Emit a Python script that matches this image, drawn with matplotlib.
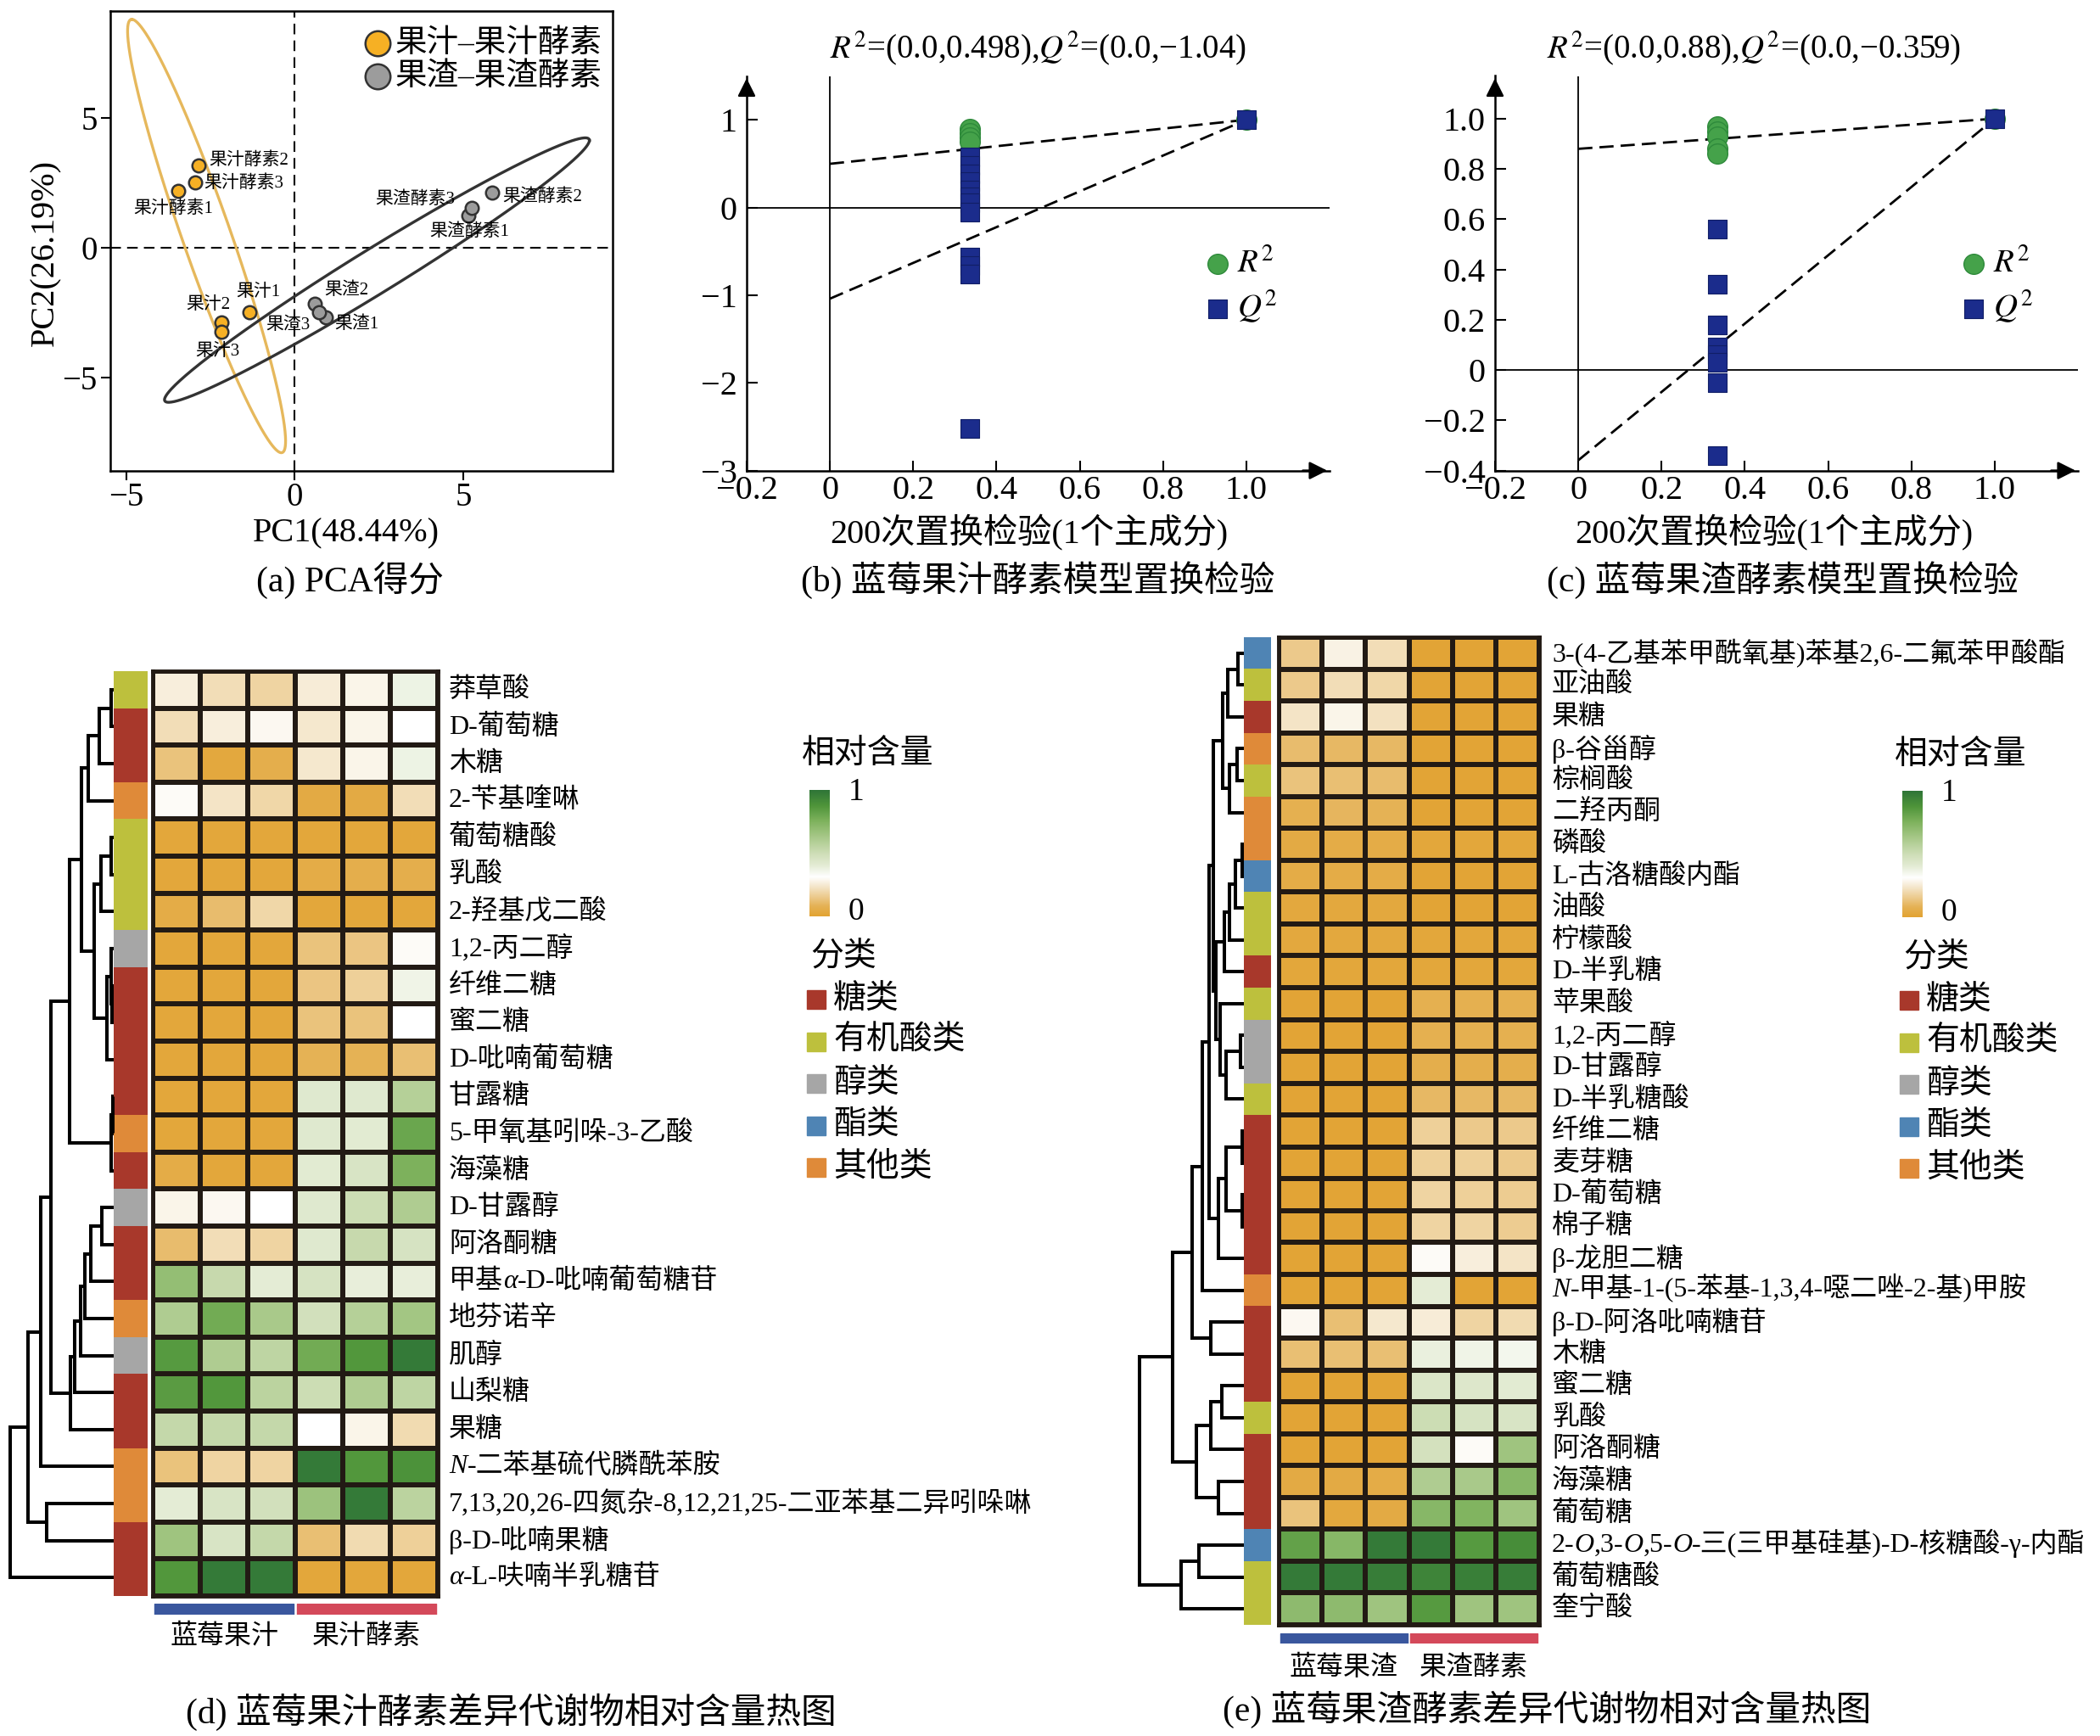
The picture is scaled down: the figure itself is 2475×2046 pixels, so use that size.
import re
import numpy as np
import matplotlib
matplotlib.use('Agg')
import matplotlib.pyplot as plt
from matplotlib.colors import LinearSegmentedColormap, to_rgb
from matplotlib.patches import Rectangle

plt.rcParams['font.family'] = ['Liberation Serif', 'Noto Sans CJK SC']
plt.rcParams['mathtext.fontset'] = 'stix'

# ---------------- data ----------------
# (a) PCA scores
pca_names = ['果汁1', '果汁2', '果汁3', '果汁酵素1', '果汁酵素2', '果汁酵素3',
             '果渣1', '果渣2', '果渣3', '果渣酵素1', '果渣酵素2', '果渣酵素3']
pca_pc1 = [-1.34, -2.17, -2.17, -3.47, -2.87, -2.97, 0.92, 0.60, 0.72, 5.16, 5.86, 5.26]
pca_pc2 = [-2.48, -2.89, -3.24, 2.19, 3.15, 2.50, -2.68, -2.16, -2.49, 1.23, 2.10, 1.52]
pca_group = ['果汁–果汁酵素'] * 6 + ['果渣–果渣酵素'] * 6
pca_groups = ['果汁–果汁酵素', '果渣–果渣酵素']
# confidence ellipses: centre and two conjugate half-axes
juice_ellipse_center = [-2.62, 0.44]
juice_ellipse_vectors = [[-2.22, 8.34], [0.76, 0.0]]
residue_ellipse_center = [2.44, -0.87]
residue_ellipse_vectors = [[6.31, 4.99], [0.0, 1.0]]

# (b) / (c) permutation tests
juice_perm_corr = 0.336
juice_r2_perm = [0.90, 0.85, 0.80, 0.75]
juice_q2_perm = [0.58, 0.48, 0.38, 0.30, 0.20, 0.12, 0.05, -0.05, -0.57, -0.66, -0.76, -2.52]
juice_r2_int, juice_q2_int = 0.498, -1.04
residue_perm_corr = 0.334
residue_r2_perm = [0.97, 0.95, 0.93, 0.88, 0.86]
residue_q2_perm = [0.56, 0.34, 0.18, 0.09, 0.06, 0.03, -0.05, -0.34]
residue_r2_int, residue_q2_int = 0.88, -0.359
orig_r2, orig_q2 = 1.0, 1.0

# (d) juice heatmap
juice_names = ['莽草酸', 'D-葡萄糖', '木糖', '2-苄基喹啉', '葡萄糖酸', '乳酸', '2-羟基戊二酸',
               '1,2-丙二醇', '纤维二糖', '蜜二糖', 'D-吡喃葡萄糖', '甘露糖', '5-甲氧基吲哚-3-乙酸',
               '海藻糖', 'D-甘露醇', '阿洛酮糖', '甲基{α}-D-吡喃葡萄糖苷', '地芬诺辛', '肌醇',
               '山梨糖', '果糖', '{N}-二苯基硫代膦酰苯胺',
               '7,13,20,26-四氮杂-8,12,21,25-二亚苯基二异吲哚啉', 'β-D-吡喃果糖', '{α}-L-呋喃半乳糖苷']
juice_cats = ['有机酸类', '糖类', '糖类', '其他类', '有机酸类', '有机酸类', '有机酸类', '醇类',
              '糖类', '糖类', '糖类', '糖类', '其他类', '糖类', '醇类', '糖类', '糖类', '其他类',
              '醇类', '糖类', '糖类', '其他类', '其他类', '糖类', '糖类']
juice_values = [
    [0.26, 0.21, 0.18, 0.25, 0.28, 0.37],
    [0.21, 0.26, 0.29, 0.24, 0.28, 0.31],
    [0.13, 0.03, 0.06, 0.24, 0.28, 0.37],
    [0.30, 0.23, 0.19, 0.04, 0.04, 0.21],
    [0.02, 0.02, 0.02, 0.02, 0.02, 0.02],
    [0.02, 0.02, 0.02, 0.05, 0.06, 0.06],
    [0.05, 0.11, 0.19, 0.02, 0.02, 0.02],
    [0.02, 0.02, 0.02, 0.13, 0.14, 0.30],
    [0.02, 0.02, 0.02, 0.14, 0.17, 0.36],
    [0.02, 0.02, 0.02, 0.13, 0.13, 0.31],
    [0.02, 0.02, 0.02, 0.08, 0.08, 0.12],
    [0.02, 0.02, 0.02, 0.42, 0.42, 0.58],
    [0.02, 0.02, 0.02, 0.42, 0.41, 0.80],
    [0.05, 0.02, 0.02, 0.41, 0.45, 0.75],
    [0.28, 0.29, 0.31, 0.42, 0.50, 0.60],
    [0.11, 0.21, 0.18, 0.42, 0.52, 0.46],
    [0.68, 0.52, 0.40, 0.46, 0.39, 0.39],
    [0.60, 0.78, 0.62, 0.48, 0.58, 0.64],
    [0.85, 0.60, 0.55, 0.78, 0.86, 0.97],
    [0.84, 0.86, 0.56, 0.50, 0.60, 0.55],
    [0.53, 0.53, 0.53, 0.31, 0.28, 0.20],
    [0.13, 0.18, 0.18, 0.97, 0.86, 0.88],
    [0.40, 0.45, 0.48, 0.66, 0.97, 0.56],
    [0.65, 0.45, 0.53, 0.12, 0.20, 0.17],
    [0.86, 0.97, 0.97, 0.02, 0.02, 0.02],
]
# dendrogram: (left, right, merge height)
juice_tree = (((((((0, 1, 3.5), 2, 17.4), 3, 30.4),
                 (((4, 5, 3.5), 6, 15.4), ((7, (8, 9, 2.0), 3.5), 10, 8.3), 23.3), 38.3),
                ((11, 12, 1.5), 13, 3.0), 52.3),
               ((((((14, 15, 14.0), 16, 27.0), 17, 34.0), 18, 39.0), 19, 46.0), 20, 51.0), 74.0),
              21, 86.0)
juice_tree = ((juice_tree, (22, 23, 79.0), 101.0), 24, 122.0)
juice_groups = ['蓝莓果汁', '果汁酵素']

# (e) residue heatmap
residue_names = ['3-(4-乙基苯甲酰氧基)苯基2,6-二氟苯甲酸酯', '亚油酸', '果糖', 'β-谷甾醇', '棕榈酸',
                 '二羟丙酮', '磷酸', 'L-古洛糖酸内酯', '油酸', '柠檬酸', 'D-半乳糖', '苹果酸',
                 '1,2-丙二醇', 'D-甘露醇', 'D-半乳糖酸', '纤维二糖', '麦芽糖', 'D-葡萄糖', '棉子糖',
                 'β-龙胆二糖', '{N}-甲基-1-(5-苯基-1,3,4-噁二唑-2-基)甲胺', 'β-D-阿洛吡喃糖苷', '木糖',
                 '蜜二糖', '乳酸', '阿洛酮糖', '海藻糖', '葡萄糖',
                 '2-{O},3-{O},5-{O}-三(三甲基硅基)-D-核糖酸-γ-内酯', '葡萄糖酸', '奎宁酸']
residue_cats = ['酯类', '有机酸类', '糖类', '其他类', '有机酸类', '其他类', '其他类', '酯类',
                '有机酸类', '有机酸类', '糖类', '有机酸类', '醇类', '醇类', '有机酸类', '糖类', '糖类',
                '糖类', '糖类', '糖类', '其他类', '糖类', '糖类', '糖类', '有机酸类', '糖类', '糖类',
                '糖类', '酯类', '有机酸类', '有机酸类']
residue_values = [
    [0.15, 0.27, 0.21, 0.01, 0.01, 0.01],
    [0.15, 0.21, 0.19, 0.01, 0.01, 0.01],
    [0.23, 0.28, 0.22, 0.01, 0.01, 0.01],
    [0.11, 0.10, 0.10, 0.01, 0.01, 0.01],
    [0.13, 0.12, 0.11, 0.01, 0.01, 0.01],
    [0.07, 0.09, 0.08, 0.01, 0.01, 0.01],
    [0.04, 0.05, 0.05, 0.02, 0.02, 0.02],
    [0.05, 0.05, 0.05, 0.01, 0.01, 0.01],
    [0.03, 0.03, 0.03, 0.01, 0.01, 0.01],
    [0.03, 0.03, 0.03, 0.02, 0.02, 0.02],
    [0.02, 0.02, 0.02, 0.02, 0.02, 0.02],
    [0.01, 0.01, 0.01, 0.07, 0.07, 0.07],
    [0.01, 0.01, 0.01, 0.07, 0.07, 0.07],
    [0.01, 0.01, 0.01, 0.06, 0.06, 0.06],
    [0.01, 0.01, 0.01, 0.10, 0.10, 0.10],
    [0.01, 0.01, 0.01, 0.17, 0.15, 0.15],
    [0.01, 0.01, 0.01, 0.17, 0.17, 0.15],
    [0.01, 0.01, 0.01, 0.18, 0.17, 0.16],
    [0.01, 0.01, 0.01, 0.18, 0.18, 0.16],
    [0.01, 0.01, 0.01, 0.30, 0.26, 0.23],
    [0.01, 0.01, 0.01, 0.40, 0.01, 0.01],
    [0.29, 0.12, 0.24, 0.25, 0.18, 0.20],
    [0.12, 0.12, 0.12, 0.38, 0.36, 0.35],
    [0.01, 0.01, 0.01, 0.44, 0.43, 0.41],
    [0.01, 0.01, 0.01, 0.50, 0.46, 0.45],
    [0.01, 0.01, 0.01, 0.47, 0.30, 0.65],
    [0.04, 0.04, 0.05, 0.60, 0.62, 0.72],
    [0.13, 0.03, 0.04, 0.72, 0.74, 0.65],
    [0.82, 0.72, 0.97, 0.97, 0.85, 0.90],
    [0.97, 0.97, 0.96, 0.93, 0.95, 0.96],
    [0.70, 0.70, 0.65, 0.85, 0.65, 0.65],
]
_top = (((((0, 1, 6.7), 2, 19.2), ((3, 4, 8.5), 5, 17.4), 24.6),
         (((((6, 7, 2.0), 8, 10.0), 9, 17.0), 10, 23.0),
          (11, ((12, 13, 4.0), 14, 21.0), 28.0), 33.0), 36.0),
        (((15, 16, 2.0), (17, 18, 2.0), 21.0), 19, 30.0), 41.0)
_top = ((_top, 20, 49.3), (21, 22, 39.3), 61.0)
_low = ((((23, 24, 26.0), 25, 39.3), (26, 27, 30.0), 56.0))
residue_tree = ((_top, _low, 84.3), ((28, 29, 52.7), 30, 74.3), 122.7)
residue_groups = ['蓝莓果渣', '果渣酵素']
replicates = 3

categories = ['糖类', '有机酸类', '醇类', '酯类', '其他类']
cat_colors = {'糖类': '#A8382B', '有机酸类': '#BDC03D', '醇类': '#A6A6A6',
              '酯类': '#4F84B4', '其他类': '#DF8A39'}

captions = ['(a) PCA得分', '(b) 蓝莓果汁酵素模型置换检验', '(c) 蓝莓果渣酵素模型置换检验',
            '(d) 蓝莓果汁酵素差异代谢物相对含量热图', '(e) 蓝莓果渣酵素差异代谢物相对含量热图']

# ---------------- figure helpers ----------------
W, H = 2475, 2046
fig = plt.figure(figsize=(W / 100, H / 100), dpi=100)


def px_axes(x0, y0, x1, y1):
    return fig.add_axes([x0 / W, 1 - y1 / H, (x1 - x0) / W, (y1 - y0) / H])


def px_text(x, y, s, **kw):
    kw.setdefault('ha', 'center')
    kw.setdefault('va', 'center')
    return fig.text(x / W, 1 - y / H, s, **kw)


def rich_label(ax, x, y, label, size, transform):
    # {..} marks italic pieces
    prev = None
    for part in [p for p in re.split(r'(\{[^}]*\})', label) if p]:
        style = 'italic' if part.startswith('{') else 'normal'
        s = part.strip('{}')
        if prev is None:
            prev = ax.text(x, y, s, transform=transform, fontsize=size, style=style,
                           ha='left', va='center')
        else:
            prev = ax.annotate(s, xy=(1, 0), xycoords=prev, fontsize=size, style=style,
                               ha='left', va='bottom')


# ---------------- (a) PCA ----------------
ax = px_axes(130, 13, 722, 555)
t = np.linspace(0, 2 * np.pi, 400)
for c, vecs, col in [(juice_ellipse_center, juice_ellipse_vectors, '#E6B85C'),
                     (residue_ellipse_center, residue_ellipse_vectors, '#333333')]:
    a, b = np.array(vecs)
    pts = np.array(c)[:, None] + np.outer(a, np.cos(t)) + np.outer(b, np.sin(t))
    ax.plot(pts[0], pts[1], color=col, lw=2.4, zorder=2)
ax.axhline(0, color='k', lw=1.5, dashes=(6, 3.5), zorder=1)
ax.axvline(0, color='k', lw=1.5, dashes=(6, 3.5), zorder=1)
for grp, col in zip(pca_groups, ['#F6B024', '#9C9C9C']):
    idx = [i for i, g in enumerate(pca_group) if g == grp]
    ax.scatter([pca_pc1[i] for i in idx], [pca_pc2[i] for i in idx], s=125, c=col,
               edgecolors='#333333', linewidths=1.8, zorder=3, label=grp)
pca_label_offsets = [(-0.41, 0.75), (-1.05, 0.69), (-0.77, -0.78), (-1.32, -0.69), (0.33, 0.2),
                     (0.26, -0.02), (0.25, -0.29), (0.29, 0.51), (-1.57, -0.51), (-1.16, -0.63),
                     (0.30, -0.15), (-2.86, 0.33)]
for name, x, y, (dx, dy) in zip(pca_names, pca_pc1, pca_pc2, pca_label_offsets):
    ax.text(x + dx, y + dy, name, fontsize=15, ha='left', va='center', zorder=4)
ax.set_xlim(-5.48, 9.44)
ax.set_ylim(-8.6, 9.1)
ax.set_xticks([-5, 0, 5])
ax.set_xticklabels(['−5', '0', '5'])
ax.set_yticks([-5, 0, 5])
ax.set_yticklabels(['−5', '0', '5'])
ax.tick_params(direction='out', length=8, width=1.5, labelsize=28)
ax.tick_params(axis='x', pad=1)
ax.tick_params(axis='y', pad=3)
for s in ax.spines.values():
    s.set_linewidth(1.8)
ax.legend(loc='upper left', bbox_to_anchor=(0.475, 0.995), frameon=False, fontsize=27,
          markerscale=1.9, handletextpad=0.15, labelspacing=0.1, borderpad=0, handlelength=0.8)
px_text(408, 629, 'PC1(48.44%)', fontsize=29)
px_text(54, 298, 'PC2(26.19%)', fontsize=29, rotation=90)
px_text(412, 684, captions[0], fontsize=30)


# ---------------- (b) / (c) permutation ----------------
def perm_panel(box, corr, r2_perm, q2_perm, r2_int, q2_int, ylim, yticks, yticklabels,
               title, title_x, xlabel_x, cap, cap_x, leg_x):
    ax = px_axes(*box)
    ax.axhline(0, color='k', lw=1.3, zorder=1)
    ax.axvline(0, color='k', lw=1.3, zorder=1)
    ax.plot([0, 1], [r2_int, orig_r2], color='k', lw=2, dashes=(6, 3), zorder=2)
    ax.plot([0, 1], [q2_int, orig_q2], color='k', lw=2, dashes=(6, 3), zorder=2)
    ax.scatter([corr] * len(r2_perm) + [1.0], r2_perm + [orig_r2], s=290, marker='o',
               c='#45A24A', edgecolors='#2E8A3B', linewidths=1, zorder=3, label='$R^2$')
    ax.scatter([corr] * len(q2_perm) + [1.0], q2_perm + [orig_q2], s=240, marker='s',
               c='#1B2C8C', edgecolors='#111E66', linewidths=0.8, zorder=4, label='$Q^2$')
    ax.set_xlim(-0.2, 1.2)
    ax.set_ylim(*ylim)
    ax.set_xticks([-0.2, 0, 0.2, 0.4, 0.6, 0.8, 1.0])
    ax.set_xticklabels(['−0.2', '0', '0.2', '0.4', '0.6', '0.8', '1.0'])
    ax.set_yticks(yticks)
    ax.set_yticklabels(yticklabels)
    ax.tick_params(direction='in', length=9, width=1.5, labelsize=29)
    ax.tick_params(axis='y', pad=8)
    ax.tick_params(axis='x', pad=4)
    ax.spines['top'].set_visible(False)
    ax.spines['right'].set_visible(False)
    for sp in ['left', 'bottom']:
        ax.spines[sp].set_linewidth(1.8)
    ax.annotate('', xy=(1.0, 0), xytext=(0.95, 0), xycoords='axes fraction',
                arrowprops=dict(arrowstyle='-|>', color='k', lw=1.8, mutation_scale=32))
    ax.annotate('', xy=(0, 1.0), xytext=(0, 0.95), xycoords='axes fraction',
                arrowprops=dict(arrowstyle='-|>', color='k', lw=1.8, mutation_scale=32))
    ax.legend(loc='center left', bbox_to_anchor=(leg_x, 0.466), frameon=False, fontsize=28,
              handletextpad=0.2, labelspacing=0.25, borderpad=0, handlelength=0.8)
    px_text(title_x, 57, title, fontsize=28)
    px_text(xlabel_x, 627, '200次置换检验(1个主成分)', fontsize=29)
    px_text(cap_x, 684, cap, fontsize=30)


perm_panel((880, 89.5, 1567, 554.6), juice_perm_corr, juice_r2_perm, juice_q2_perm,
           juice_r2_int, juice_q2_int, (-3, 1.5), [1, 0, -1, -2, -3],
           ['1', '0', '−1', '−2', '−3'],
           r'$R^2$=(0.0,%s),$Q^2$=(0.0,−%s)' % (juice_r2_int, abs(juice_q2_int)),
           1223, 1213, captions[1], 1223, 0.757)
perm_panel((1762, 89.5, 2449, 554.6), residue_perm_corr, residue_r2_perm, residue_q2_perm,
           residue_r2_int, residue_q2_int, (-0.4, 1.17),
           [1.0, 0.8, 0.6, 0.4, 0.2, 0, -0.2, -0.4],
           ['1.0', '0.8', '0.6', '0.4', '0.2', '0', '−0.2', '−0.4'],
           r'$R^2$=(0.0,%s),$Q^2$=(0.0,−%s)' % (residue_r2_int, abs(residue_q2_int)),
           2067, 2091, captions[2], 2101, 0.77)

# ---------------- heatmaps ----------------
cmap = LinearSegmentedColormap.from_list('rel', [
    (0.0, '#E2A332'), (0.08, '#E5B256'), (0.16, '#EDCD93'), (0.24, '#F5E8CF'),
    (0.31, '#FFFFFF'), (0.40, '#E4ECD5'), (0.50, '#CDDDB5'), (0.62, '#A9C98A'),
    (0.75, '#7EB25D'), (0.87, '#4F953A'), (1.0, '#2D7337')])
grid_color = '#221A14'


def draw_tree(ax, node):
    if isinstance(node, int):
        return node + 0.5, 0.0
    left, right, h = node
    y1, h1 = draw_tree(ax, left)
    y2, h2 = draw_tree(ax, right)
    ax.plot([h1, h, h, h2], [y1, y1, y2, y2], color='k', lw=2.9, clip_on=False,
            solid_joinstyle='miter', solid_capstyle='butt')
    return (y1 + y2) / 2, h


def heatmap_panel(values, names, cats, tree, groups, hm_box, strip_x, dendro_x0, label_pad,
                  bar_y, group_label_y):
    x0, y0, x1, y1 = hm_box
    n = len(values)
    ax = px_axes(*hm_box)
    ax.pcolormesh(np.array(values), cmap=cmap, vmin=0, vmax=1, edgecolors=grid_color,
                  linewidth=3.2)
    ax.set_xlim(0, 6)
    ax.set_ylim(n, 0)
    ax.set_xticks([])
    ax.set_yticks([])
    for s in ax.spines.values():
        s.set_linewidth(3.5)
        s.set_color(grid_color)
    tr = ax.get_yaxis_transform()
    for i, name in enumerate(names):
        rich_label(ax, 1 + label_pad / (x1 - x0), i + 0.5, name, 23, tr)

    sax = px_axes(strip_x[0], y0, strip_x[1], y1)
    rgb = np.array([to_rgb(cat_colors[c]) for c in cats])[:, None, :]
    sax.imshow(rgb, aspect='auto', extent=(0, 1, n, 0), interpolation='nearest')
    sax.set_ylim(n, 0)
    sax.axis('off')

    dax = px_axes(dendro_x0, y0, strip_x[0], y1)
    draw_tree(dax, tree)
    dax.set_xlim(strip_x[0] - dendro_x0, 0)
    dax.set_ylim(n, 0)
    dax.axis('off')

    bax = px_axes(x0, bar_y[0], x1, bar_y[1])
    for gi, (gname, gcol) in enumerate(zip(groups, ['#3A579E', '#D4495A'])):
        bax.add_patch(Rectangle((gi * replicates + 0.03, 0), replicates - 0.06, 1, color=gcol))
        px_text(x0 + (gi * replicates + replicates / 2) * (x1 - x0) / 6, group_label_y, gname,
                fontsize=23)
    bax.set_xlim(0, 6)
    bax.set_ylim(0, 1)
    bax.axis('off')


def heat_legend(bx, title_y):
    px_text(bx, title_y, '相对含量', fontsize=28, ha='left')
    cax = px_axes(bx + 9, title_y + 42, bx + 33, title_y + 191)
    cax.imshow(np.linspace(0, 1, 256)[:, None], aspect='auto', cmap=cmap, origin='lower')
    cax.axis('off')
    px_text(bx + 55, title_y + 45, '1', fontsize=27, ha='left')
    px_text(bx + 55, title_y + 186, '0', fontsize=27, ha='left')
    px_text(bx + 10, title_y + 240, '分类', fontsize=28, ha='left')
    for k, cat in enumerate(categories):
        cy = title_y + 289 + k * 49.5
        fig.add_artist(Rectangle(((bx + 6) / W, 1 - (cy + 11) / H), 22 / W, 22 / H,
                                 transform=fig.transFigure, color=cat_colors[cat]))
        px_text(bx + 37, cy, cat, fontsize=28, ha='left')


heatmap_panel(juice_values, juice_names, juice_cats, juice_tree, juice_groups,
              (180, 791, 516, 1881), (134, 173), 10, 13, (1890, 1903), 1929)
heatmap_panel(residue_values, residue_names, residue_cats, residue_tree, residue_groups,
              (1507, 751, 1814, 1915), (1466, 1498), 1342, 15, (1925, 1937), 1966)
heat_legend(945, 889)
heat_legend(2233, 890)
px_text(602, 2018, captions[3], fontsize=30)
px_text(1823, 2015, captions[4], fontsize=30)

fig.savefig('out.png', dpi=100)
